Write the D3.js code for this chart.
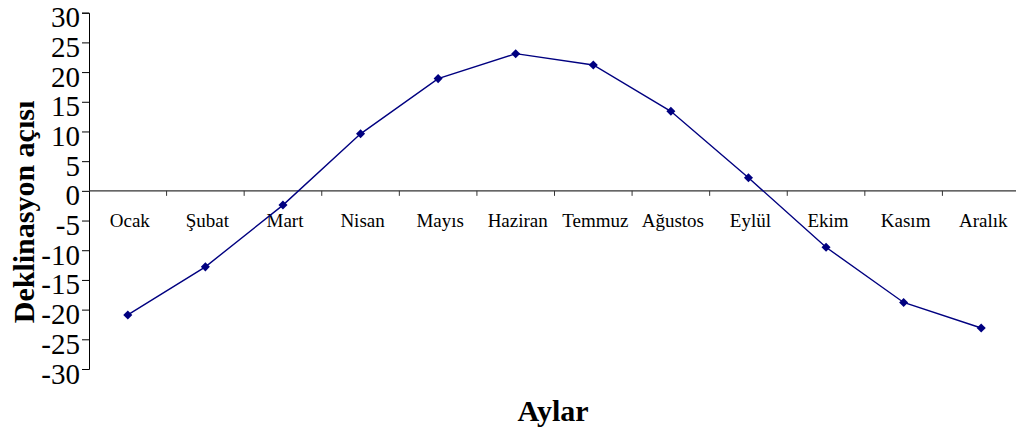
<!DOCTYPE html>
<html>
<head>
<meta charset="utf-8">
<script src="https://cdn.jsdelivr.net/npm/d3@7"></script>
<style>
  html, body { margin: 0; padding: 0; background: #fff; }
  svg { display: block; }
</style>
</head>
<body>
<svg id="chart" width="1016" height="433"></svg>
<script>
const months = ["Ocak", "Şubat", "Mart", "Nisan", "Mayıs", "Haziran", "Temmuz", "Ağustos", "Eylül", "Ekim", "Kasım", "Aralık"];
const declination = [-20.9, -12.8, -2.4, 9.6, 18.9, 23.1, 21.2, 13.4, 2.2, -9.5, -18.8, -23.1];
const yTicks = [-30, -25, -20, -15, -10, -5, 0, 5, 10, 15, 20, 25, 30];
const yTitle = "Deklinasyon açısı";
const xTitle = "Aylar";

const svg = d3.select("#chart");
const font = "'Liberation Serif', 'Times New Roman', serif";

const x = d3.scaleBand().domain(months).range([89, 1020]).padding(0);
const y = d3.scaleLinear().domain([-30, 30]).range([369, 12.7]);

// Y axis
const yAxis = d3.axisLeft(y).tickValues(yTicks).tickSize(7).tickPadding(2).tickFormat(d => String(d));
const gy = svg.append("g").attr("transform", "translate(89,0)").call(yAxis);
gy.select(".domain").attr("stroke", "#000").attr("stroke-width", 1);
gy.selectAll(".tick line").attr("stroke", "#000");
gy.selectAll(".tick text")
  .attr("font-family", font)
  .attr("font-size", 29)
  .attr("fill", "#000")
  .attr("dy", null)
  .attr("y", 14);

// Zero line (category axis)
const y0 = y(0);
svg.append("line")
  .attr("x1", 89).attr("x2", 1016)
  .attr("y1", y0).attr("y2", y0)
  .attr("stroke", "#333").attr("stroke-width", 1.2);

// Category ticks at band boundaries
const boundaries = months.slice(1).map(m => x(m)).concat([x(months[months.length - 1]) + x.bandwidth()]);
svg.append("g").selectAll("line")
  .data(boundaries)
  .join("line")
  .attr("x1", d => d).attr("x2", d => d)
  .attr("y1", y0).attr("y2", y0 + 5)
  .attr("stroke", "#333").attr("stroke-width", 1);

// Category labels
svg.append("g").selectAll("text")
  .data(months)
  .join("text")
  .attr("x", d => x(d) + x.bandwidth() / 2 + 2)
  .attr("y", 227)
  .attr("text-anchor", "middle")
  .attr("font-family", font)
  .attr("font-size", 19)
  .attr("fill", "#000")
  .text(d => d);

// Line
const cx = d => x(d) + x.bandwidth() / 2;
const line = d3.line()
  .x((d, i) => cx(months[i]))
  .y(d => y(d));
svg.append("path")
  .datum(declination)
  .attr("d", line)
  .attr("fill", "none")
  .attr("stroke", "#000080")
  .attr("stroke-width", 1.4);

// Diamond markers
const diamond = d3.symbol().type(d3.symbolDiamond2).size(52);
svg.append("g").selectAll("path")
  .data(declination)
  .join("path")
  .attr("transform", (d, i) => `translate(${cx(months[i])},${y(d)})`)
  .attr("d", diamond)
  .attr("fill", "#000080");

// Axis titles
svg.append("text")
  .attr("transform", "translate(34,212) rotate(-90)")
  .attr("text-anchor", "middle")
  .attr("font-family", font)
  .attr("font-weight", "bold")
  .attr("font-size", 30)
  .attr("fill", "#000")
  .text(yTitle);

svg.append("text")
  .attr("x", 553)
  .attr("y", 421)
  .attr("text-anchor", "middle")
  .attr("font-family", font)
  .attr("font-weight", "bold")
  .attr("font-size", 30)
  .attr("fill", "#000")
  .text(xTitle);
</script>
</body>
</html>
